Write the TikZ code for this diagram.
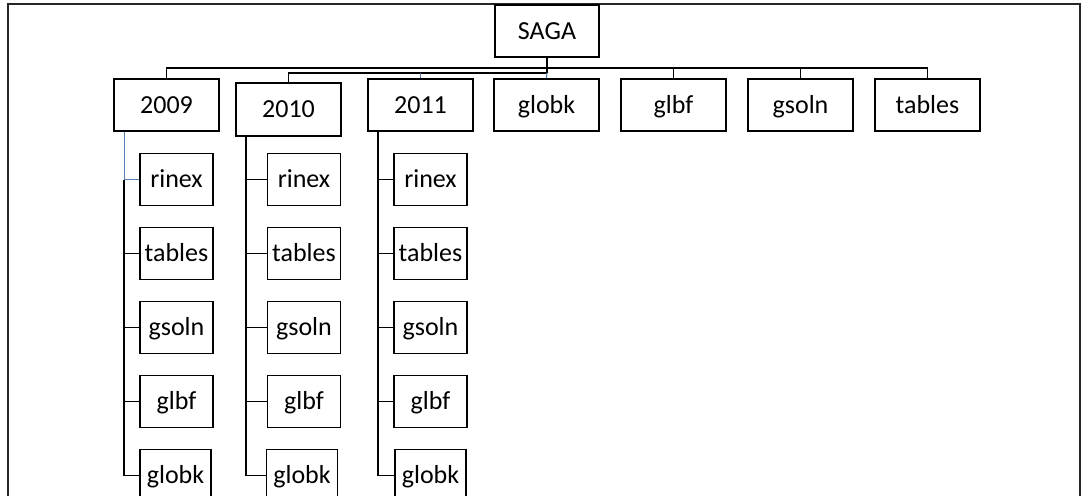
\documentclass[tikz,border=0pt]{standalone}
\usepackage{fontspec}
\setmainfont{Carlito}
\definecolor{linkblue}{RGB}{84,124,176}
\begin{document}
\begin{tikzpicture}[x=1pt,y=-1pt,
  box/.style={draw, line width=1.8pt, inner sep=0pt, font=\fontsize{26}{30}\selectfont,
    text height=21.8pt, text depth=5.6pt},
  topbox/.style={box, minimum width=105pt, minimum height=52pt},
  subbox/.style={box, minimum width=73pt, minimum height=52pt},
  link/.style={line width=1.1pt},
  trunk/.style={line width=1.6pt},
  blue link/.style={line width=1.1pt, draw=linkblue}]
\useasboundingbox (0,0) rectangle (1086,495);
\clip (0,0) rectangle (1086,495);

% outer frame, open at the bottom
\draw[line width=1.6pt, draw=black!85] (8,510) -- (8,4) -- (1080,4) -- (1080,510);

% root and first level
\node[topbox, minimum width=104pt] (saga) at (547,31) {SAGA};
\node[topbox] (y2009) at (166.5,105) {2009};
\node[topbox, minimum height=53pt] (y2010) at (288.5,109.5) {2010};
\node[topbox] (y2011) at (420.5,105) {2011};
\node[topbox] (tglobk) at (546.5,105) {globk};
\node[topbox] (tglbf) at (673.5,105) {glbf};
\node[topbox] (tgsoln) at (800.5,105) {gsoln};
\node[topbox] (ttables) at (927.5,105) {tables};

% buses under the root
\coordinate (busA) at (0,68);
\coordinate (busB) at (0,73);
\draw[trunk] (saga.south) -- (saga.south |- busB);
\draw[link] (y2009.north) -- (y2009.north |- busA) -- (ttables.north |- busA) -- (ttables.north);
\draw[link] (tglbf.north |- busA) -- (tglbf.north);
\draw[link] (tgsoln.north |- busA) -- (tgsoln.north);
\draw[link] (y2010.north) -- (y2010.north |- busB) -- (saga.south |- busB);
\draw[blue link] (y2011.north |- busB) -- (y2011.north);
\draw[blue link] (saga.south |- busB) -- (tglobk.north);

% sub-folders of each year
\foreach \yr/\cx/\gx in {2009/176.5/175.5, 2010/304/302, 2011/430.5/430.5}{
  \node[subbox] (r\yr) at (\cx,179.5) {rinex};
  \node[subbox] (t\yr) at (\cx,253.5) {tables};
  \node[subbox] (s\yr) at (\cx,327.5) {gsoln};
  \node[subbox] (f\yr) at (\cx,401.5) {glbf};
  \node[subbox, minimum width=71pt] (k\yr) at (\gx,475.5) {globk};
}

\coordinate (p2009) at ([xshift=11pt]y2009.south west);
\coordinate (p2010) at ([xshift=11pt]y2010.south west);
\coordinate (p2011) at ([xshift=11pt]y2011.south west);

% 2009: upper part of the trunk is blue
\draw[blue link] (p2009) |- (r2009.west);
\draw[trunk] (p2009 |- r2009.west) -- (p2009 |- k2009.west);
\draw[link] (p2009 |- k2009.west) -- (k2009.west);
\foreach \c in {t,s,f}{
  \draw[link] (p2009 |- \c2009.west) -- (\c2009.west);
}

\foreach \yr in {2010,2011}{
  \draw[trunk] (p\yr) -- (p\yr |- k\yr.west);
  \foreach \c in {r,t,s,f,k}{
    \draw[link] (p\yr |- \c\yr.west) -- (\c\yr.west);
  }
}
\end{tikzpicture}
\end{document}
